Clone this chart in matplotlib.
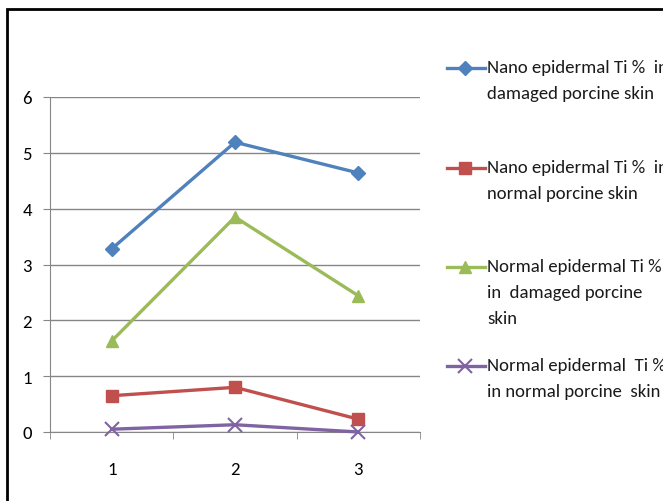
import matplotlib.pyplot as plt
from matplotlib.lines import Line2D
from matplotlib.patches import Rectangle

categories = [1, 2, 3]
nano_damaged = [3.28, 5.19, 4.64]
nano_normal = [0.65, 0.80, 0.23]
normal_damaged = [1.63, 3.85, 2.44]
normal_normal = [0.05, 0.13, 0.0]

labels = ['Nano epidermal Ti %  in\ndamaged porcine skin',
          'Nano epidermal Ti %  in\nnormal porcine skin',
          'Normal epidermal Ti %\nin  damaged porcine\nskin',
          'Normal epidermal  Ti %\nin normal porcine  skin']
series = [nano_damaged, nano_normal, normal_damaged, normal_normal]
colors = ['#4F81BD', '#C0504D', '#9BBB59', '#8064A2']
markers = ['D', 's', '^', 'x']
msizes = [7, 9, 8, 10]
legend_y = [69, 169, 268, 367]  # pixel rows of the legend keys

plt.rcParams['font.family'] = ['Carlito', 'DejaVu Sans']

W, H = 663, 502
fig = plt.figure(figsize=(W / 100, H / 100), dpi=100)

# outer frame of the chart
fig.patches.append(Rectangle((7 / W, -0.1), 1.2, (H - 10) / H + 0.1,
                             transform=fig.transFigure, fill=False,
                             edgecolor='black', linewidth=2))

ax = fig.add_axes([50 / W, 69 / H, 370 / W, 335 / H])
for s, c, m, ms in zip(series, colors, markers, msizes):
    ax.plot(categories, s, color=c, marker=m, markersize=ms, linewidth=2.4,
            markeredgewidth=1.5 if m == 'x' else 1, clip_on=False, zorder=3)

ax.set_xlim(0.5, 3.5)
ax.set_ylim(0, 6)
ax.set_yticks(range(0, 7))
ax.set_xticks(categories)
ax.set_xticks([0.5, 1.5, 2.5, 3.5], minor=True)
ax.yaxis.grid(True, color='#868686', linewidth=1)
ax.set_axisbelow(True)
for side in ['top', 'right']:
    ax.spines[side].set_visible(False)
for side in ['left', 'bottom']:
    ax.spines[side].set_color('#868686')
ax.tick_params(axis='y', length=5, color='#868686', labelsize=13.5, pad=8)
ax.tick_params(axis='x', which='major', length=0, labelsize=13.5, pad=21)
ax.tick_params(axis='x', which='minor', length=5, color='#868686')

# legend drawn by hand to keep the wide spacing
for lab, c, m, ms, py in zip(labels, colors, markers, msizes, legend_y):
    y = 1 - py / H
    fig.add_artist(Line2D([447 / W, 485 / W], [y, y], color=c, linewidth=2.4,
                          transform=fig.transFigure))
    fig.add_artist(Line2D([465 / W], [y], color=c, marker=m, markersize=ms,
                          markeredgewidth=1.5 if m == 'x' else 1,
                          transform=fig.transFigure, linestyle='none'))
    fig.text(487 / W, y + 9 / H, lab, fontsize=13.5, va='top', ha='left',
             linespacing=1.75, color='#1a1a1a')

fig.savefig('out.png', dpi=100)
